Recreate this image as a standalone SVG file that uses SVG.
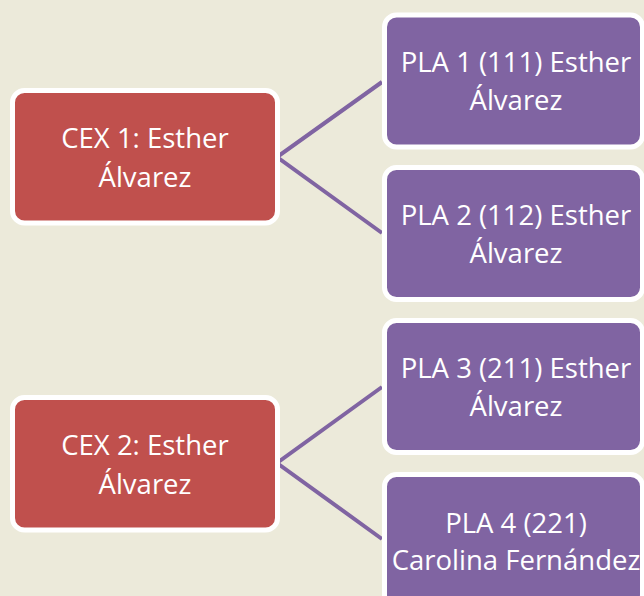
<svg xmlns="http://www.w3.org/2000/svg" width="644" height="596" viewBox="0 0 644 596">
<style>
.cex{fill:#C0504D;stroke:#FFFFFF;stroke-width:5}
.pla{fill:#8064A2;stroke:#FFFFFF;stroke-width:5}
.t{font-family:"Open Sans","Liberation Sans",sans-serif;font-size:27.5px;fill:#FFFFFF;text-anchor:middle}
.c{stroke:#8064A2;stroke-width:4;fill:none}
</style>
<rect width="644" height="596" fill="#ECEADA"/>
<g id="connectors">
<polyline class="c" points="382,82 277,157 382,233"/>
<polyline class="c" points="382,387 277,463 382,539"/>
</g>
<g id="cex1">
<rect class="cex" x="12.5" y="90.5" width="265" height="132.5" rx="12"/>
<text class="t" x="145" y="148">CEX 1: Esther</text>
<text class="t" x="145" y="187">Álvarez</text>
</g>
<g id="cex2">
<rect class="cex" x="12.5" y="397.5" width="265" height="132.5" rx="12"/>
<text class="t" x="145" y="455">CEX 2: Esther</text>
<text class="t" x="145" y="494">Álvarez</text>
</g>
<g id="pla1">
<rect class="pla" x="384.5" y="15" width="258" height="132" rx="12"/>
<text class="t" x="516" y="72">PLA 1 (111) Esther</text>
<text class="t" x="516" y="110">Álvarez</text>
</g>
<g id="pla2">
<rect class="pla" x="384.5" y="167.5" width="258" height="132" rx="12"/>
<text class="t" x="516" y="225">PLA 2 (112) Esther</text>
<text class="t" x="516" y="263">Álvarez</text>
</g>
<g id="pla3">
<rect class="pla" x="384.5" y="320.5" width="258" height="132" rx="12"/>
<text class="t" x="516" y="378">PLA 3 (211) Esther</text>
<text class="t" x="516" y="416">Álvarez</text>
</g>
<g id="pla4">
<rect class="pla" x="384.5" y="474.5" width="258" height="132" rx="12"/>
<text class="t" x="516" y="533">PLA 4 (221)</text>
<text class="t" x="516" y="570">Carolina Fernández</text>
</g>
</svg>
